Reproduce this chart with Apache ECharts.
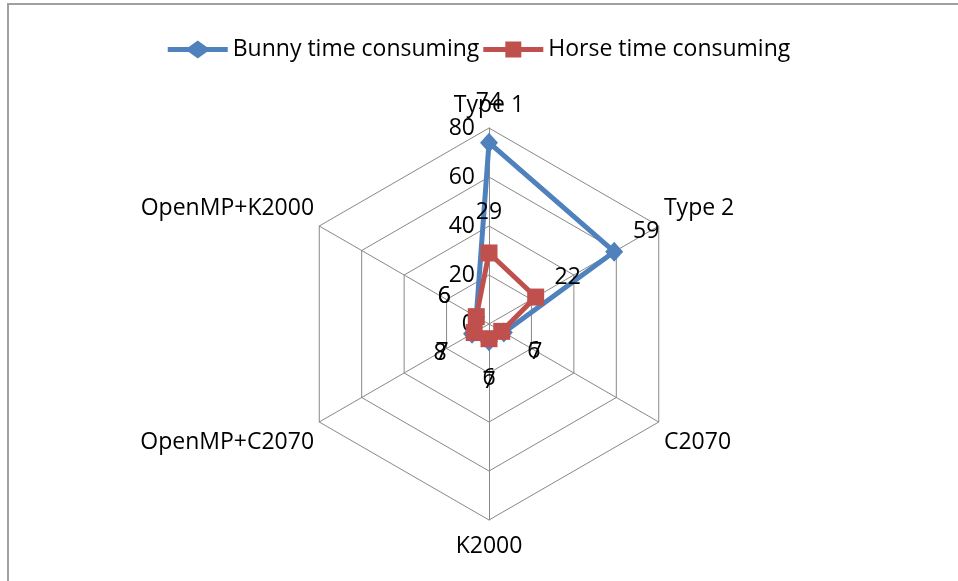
<!DOCTYPE html>
<html>
<head>
<meta charset="utf-8">
<script src="https://cdn.jsdelivr.net/npm/echarts@6/dist/echarts.min.js"></script>
<style>
  html, body { margin: 0; padding: 0; background: #fff; }
  #chart { width: 958px; height: 581px; }
</style>
</head>
<body>
<div id="chart"></div>
<script>
// Axes, listed clockwise starting at the top
const categories = ['Type 1', 'Type 2', 'C2070', 'K2000', 'OpenMP+C2070', 'OpenMP+K2000'];
const bunnyValues = [74, 59, 7, 7, 8, 6];
const horseValues = [29, 22, 6, 6, 7, 6];
const seriesNames = ['Bunny time consuming', 'Horse time consuming'];
const axisMax = 80;
const axisInterval = 20;

const FONT = 'Open Sans';
const FONT_SIZE = 23;
const BLUE = '#4F81BD';
const RED = '#C0504D';
const GRID = '#888888';

// ECharts lays radar axes out counter-clockwise, so feed them in reverse
// (keeping the first one at the top) to get a clockwise layout.
const order = [0].concat(categories.map((_, i) => i).slice(1).reverse());
const indicator = order.map((k, j) => {
  const ind = { name: categories[k], min: 0, max: axisMax };
  if (j === 0) {
    ind.axisLabel = { show: true, margin: 14, color: '#000', fontFamily: FONT, fontSize: FONT_SIZE };
  }
  return ind;
});

// Axis titles: nudge the side ones up/down away from the corner they sit at.
const nameRich = {};
categories.forEach((c, k) => {
  const theta = (90 - k * 60) * Math.PI / 180;
  const s = Math.sin(theta);
  let pad;
  if (Math.abs(s) > 0.99) {
    pad = s > 0 ? [0, 0, 0, 0] : [9, 0, 0, 0];
  } else {
    const dy = s > 0 ? -15 : 17;
    pad = [Math.max(0, 2 * dy), 0, Math.max(0, -2 * dy), 0];
  }
  nameRich['n' + k] = { fontFamily: FONT, fontSize: FONT_SIZE, color: '#000', padding: pad };
});

// Value labels sit just outside each point, pushed along its axis direction.
const rich = {};
order.forEach((k, j) => {
  const theta = (90 - k * 60) * Math.PI / 180;
  const dx = 37 * Math.cos(theta);
  const dy = -40 * Math.sin(theta);
  rich['d' + j] = {
    fontFamily: FONT, fontSize: FONT_SIZE, color: '#000',
    padding: [Math.max(0, 2 * dy), Math.max(0, -2 * dx), Math.max(0, -2 * dy), Math.max(0, 2 * dx)]
  };
});
const valueLabel = {
  show: true,
  position: 'inside',
  formatter: p => '{d' + p.dimensionIndex + '|' + p.value + '}',
  rich: rich
};

const reorder = arr => order.map(k => arr[k]);

const bunnyIcon = 'path://M0,6.5 L21,6.5 L30,0 L39,6.5 L60,6.5 L60,11.5 L39,11.5 L30,18 L21,11.5 L0,11.5 Z';
const horseIcon = 'path://M0,6.5 L22,6.5 L22,1 L38,1 L38,6.5 L60,6.5 L60,11.5 L38,11.5 L38,17 L22,17 L22,11.5 L0,11.5 Z M0,0 L0.01,0 M0,18 L0.01,18';

const chart = echarts.init(document.getElementById('chart'), null, { renderer: 'canvas' });
chart.setOption({
  animation: false,
  backgroundColor: '#fff',
  graphic: [{
    type: 'rect',
    shape: { x: 8, y: 4, width: 1000, height: 700 },
    style: { fill: 'none', stroke: '#A0A0A0', lineWidth: 2 },
    silent: true
  }],
  legend: {
    top: 33,
    left: 'center',
    itemWidth: 60,
    itemHeight: 18,
    itemGap: 4,
    textStyle: { fontFamily: FONT, fontSize: FONT_SIZE, color: '#000' },
    data: [
      { name: seriesNames[0], icon: bunnyIcon, itemStyle: { color: BLUE } },
      { name: seriesNames[1], icon: horseIcon, itemStyle: { color: RED } }
    ]
  },
  radar: {
    center: [489, 324],
    radius: 196,
    startAngle: 90,
    shape: 'polygon',
    splitNumber: axisMax / axisInterval,
    indicator: indicator,
    nameGap: 6,
    axisName: {
      color: '#000', fontFamily: FONT, fontSize: FONT_SIZE,
      formatter: name => '{n' + categories.indexOf(name) + '|' + name + '}',
      rich: nameRich
    },
    axisLine: { lineStyle: { color: GRID, width: 1 } },
    splitLine: { lineStyle: { color: GRID, width: 1 } },
    splitArea: { show: false },
    axisTick: { show: false },
    axisLabel: { show: false }
  },
  series: [{
    type: 'radar',
    data: [
      {
        name: seriesNames[0],
        value: reorder(bunnyValues),
        symbol: 'diamond',
        symbolSize: [18, 20],
        lineStyle: { color: BLUE, width: 5 },
        itemStyle: { color: BLUE },
        label: valueLabel
      },
      {
        name: seriesNames[1],
        value: reorder(horseValues),
        symbol: 'rect',
        symbolSize: 17,
        lineStyle: { color: RED, width: 5 },
        itemStyle: { color: RED },
        label: valueLabel
      }
    ]
  }]
});
</script>
</body>
</html>
